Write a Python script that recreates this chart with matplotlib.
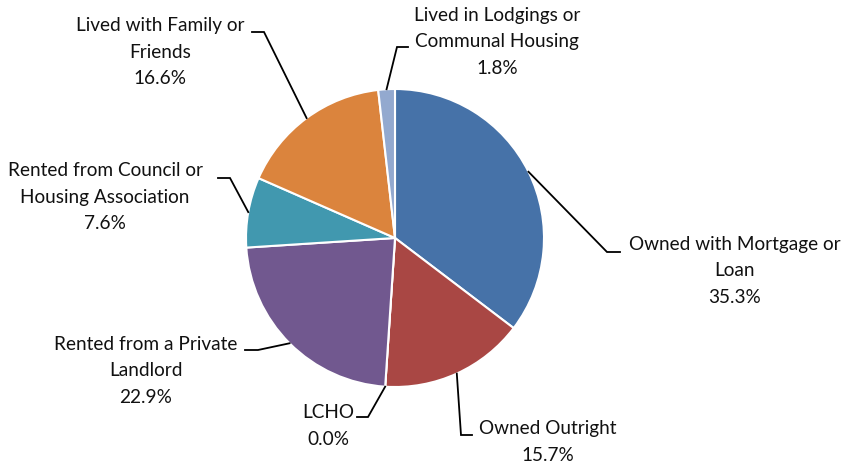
import numpy as np
import matplotlib
matplotlib.use("Agg")
from matplotlib import pyplot as plt

plt.rcParams['font.family'] = ['Lato', 'DejaVu Sans']

# tenure shares, clockwise from 12 o'clock
categories = ["Owned with Mortgage or\nLoan", "Owned Outright", "LCHO",
              "Rented from a Private\nLandlord", "Rented from Council or\nHousing Association",
              "Lived with Family or\nFriends", "Lived in Lodgings or\nCommunal Housing"]
shares = [35.3, 15.7, 0.0, 22.9, 7.6, 16.6, 1.8]
colors = ["#4672A8", "#A94744", "#89A54E", "#71588F", "#4198AF", "#DB843D", "#93A9CF"]

W, H = 848, 467
# label layout in pixels from top-left: text centre, leader elbow and leader end
label_pos = [(735, 271), (548, 442), (328, 426), (146, 371), (105, 197), (160, 52), (497, 42)]
elbow = [(607, 252), (461, 435), (368, 417), (258, 350), (230, 178), (264, 32), (397, 47)]
lead_end = [(620, 252), (472, 435), (357, 417), (245, 350), (218, 178), (252, 32), (408, 47)]

fig = plt.figure(figsize=(W / 100, H / 100), dpi=100)
ax = fig.add_axes([0, 0, 1, 1])

cx, cy, r = 395, H - 238, 149
wedges, _ = ax.pie(shares, colors=colors, startangle=90, counterclock=False,
                   center=(cx, cy), radius=r, frame=True,
                   wedgeprops=dict(edgecolor="white", linewidth=1.5))
ax.set_xlim(0, W)
ax.set_ylim(0, H)
ax.set_aspect("equal")
ax.axis("off")

for i, w in enumerate(wedges):
    mid = np.deg2rad((w.theta1 + w.theta2) / 2)
    ax_x, ax_y = cx + r * np.cos(mid), cy + r * np.sin(mid)
    ex, ey = elbow[i]
    lx, ly = lead_end[i]
    ax.plot([ax_x, ex, lx], [ax_y, H - ey, H - ly], color="black", lw=1.3,
            solid_joinstyle="miter")
    tx, ty = label_pos[i]
    ax.text(tx, H - ty, "%s\n%.1f%%" % (categories[i], shares[i]),
            ha="center", va="center", multialignment="center",
            fontsize=13.7, color="#111111", linespacing=1.65)

fig.savefig("out.png", dpi=100)
